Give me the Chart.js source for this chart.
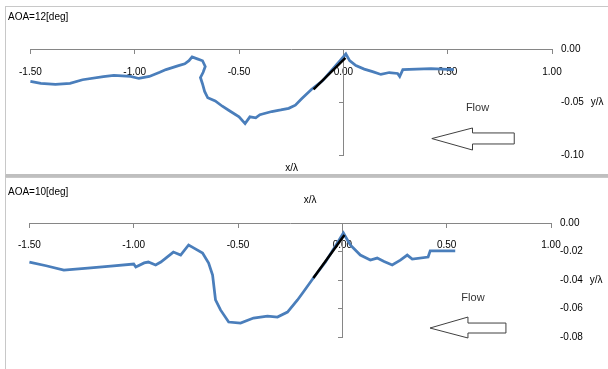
<!DOCTYPE html>
<html>
<head>
<meta charset="utf-8">
<title>AOA profiles</title>
<script src="https://cdn.jsdelivr.net/npm/chart.js@4.4.1/dist/chart.umd.min.js"></script>
<style>
  html, body { margin: 0; padding: 0; background: #fff; }
  body { width: 608px; height: 369px; position: relative; overflow: hidden; }
  .panel {
    position: absolute;
    left: 5px;
    width: 602px;
    border-left: 1px solid #c8c8c8;
    border-top: 1px solid #c8c8c8;
  }
  #panelTop { top: 6px; height: 167px; border-bottom: 3px solid #bfbfbf; }
  #panelBottom { top: 177px; height: 191px; }
</style>
</head>
<body>
<div class="panel" id="panelTop"><canvas id="chartTop"></canvas></div>
<div class="panel" id="panelBottom"><canvas id="chartBottom"></canvas></div>

<script>
// AOA = 12 deg profile
const topX = [-1.50, -1.45, -1.38, -1.31, -1.25, -1.15, -1.10, -1.02, -0.98, -0.93, -0.88, -0.85,
  -0.82, -0.79, -0.76, -0.74, -0.725, -0.70, -0.675, -0.662, -0.672, -0.685, -0.675, -0.665,
  -0.65, -0.614, -0.58, -0.548, -0.50, -0.471, -0.448, -0.42, -0.40, -0.343, -0.30, -0.262,
  -0.23, -0.20, -0.152, -0.10, -0.06, -0.02, 0.012, 0.03, 0.06, 0.10, 0.14, 0.18, 0.22, 0.26,
  0.27, 0.285, 0.42, 0.53];
const topY = [-0.0306, -0.0324, -0.0333, -0.0324, -0.0290, -0.0260, -0.0250, -0.0259, -0.0278,
  -0.0259, -0.0220, -0.0194, -0.0176, -0.0157, -0.0139, -0.0110, -0.0074, -0.0093, -0.0111,
  -0.0165, -0.0220, -0.0269, -0.0330, -0.0400, -0.0460, -0.0490, -0.0540, -0.0580, -0.0640,
  -0.0704, -0.0640, -0.0650, -0.0620, -0.0590, -0.0575, -0.0560, -0.0530, -0.0470, -0.0380,
  -0.0300, -0.0210, -0.0120, -0.0046, -0.0110, -0.0157, -0.0190, -0.0213, -0.0240, -0.0222,
  -0.0231, -0.0259, -0.0194, -0.0185, -0.0194];
const topWingX = [-0.143, 0.01];
const topWingY = [-0.0380, -0.0083];

// AOA = 10 deg profile
const bottomX = [-1.50, -1.42, -1.335, -1.22, -1.11, -1.00, -0.99, -0.95, -0.93, -0.895, -0.87,
  -0.84, -0.81, -0.775, -0.737, -0.713, -0.67, -0.641, -0.622, -0.608, -0.584, -0.545, -0.488,
  -0.426, -0.359, -0.311, -0.263, -0.215, -0.187, -0.139, -0.081, -0.033, 0.005, 0.038, 0.086,
  0.134, 0.167, 0.20, 0.239, 0.278, 0.311, 0.335, 0.411, 0.421, 0.541];
const bottomY = [-0.0274, -0.0300, -0.0330, -0.0316, -0.0302, -0.0288, -0.0309, -0.0280,
  -0.0274, -0.0295, -0.0274, -0.0239, -0.0204, -0.0225, -0.0154, -0.0175, -0.0211, -0.0281,
  -0.0365, -0.0540, -0.0610, -0.0695, -0.0702, -0.0667, -0.0653, -0.0660, -0.0625, -0.0540,
  -0.0484, -0.0386, -0.0274, -0.0161, -0.0070, -0.0154, -0.0225, -0.0260, -0.0246, -0.0270,
  -0.0295, -0.0260, -0.0225, -0.0253, -0.0239, -0.0196, -0.0196];
const bottomWingX = [-0.139, 0.01];
const bottomWingY = [-0.0386, -0.0084];

// Axis ranges
const xRange = [-1.5, 1.0];
const topYRange = [-0.10, 0];
const bottomYRange = [-0.08, 0];

const FONT = { family: '"Liberation Sans", Arial, sans-serif', size: 10 };
const AXIS_GREY = '#868686';
const SERIES_BLUE = '#4A7EBB';

// Titles, axis names, flow text and arrow
const panelNotes = {
  id: 'panelNotes',
  afterDatasetsDraw(chart, args, opts) {
    const { ctx, scales: { x, y } } = chart;
    const px = v => x.getPixelForValue(v);
    const py = v => y.getPixelForValue(v);

    ctx.save();
    ctx.fillStyle = '#000';
    ctx.font = '10px "Liberation Sans", Arial, sans-serif';
    ctx.textBaseline = 'middle';
    ctx.textAlign = 'left';
    ctx.fillText(opts.title, 2, opts.titleY);

    ctx.textAlign = 'center';
    ctx.fillText('x/λ', px(opts.xName[0]), py(opts.xName[1]));
    ctx.fillText('y/λ', px(opts.yName[0]), py(opts.yName[1]));
    ctx.font = '11px "Liberation Sans", Arial, sans-serif';
    ctx.fillStyle = '#333';
    ctx.fillText('Flow', px(opts.flow[0]), py(opts.flow[1]));

    // hollow arrow pointing left
    const a = opts.arrow;
    ctx.beginPath();
    ctx.moveTo(px(a.tip), py(a.mid));
    ctx.lineTo(px(a.neck), py(a.headTop));
    ctx.lineTo(px(a.neck), py(a.bodyTop));
    ctx.lineTo(px(a.tail), py(a.bodyTop));
    ctx.lineTo(px(a.tail), py(a.bodyBottom));
    ctx.lineTo(px(a.neck), py(a.bodyBottom));
    ctx.lineTo(px(a.neck), py(a.headBottom));
    ctx.closePath();
    ctx.fillStyle = '#fff';
    ctx.fill();
    ctx.strokeStyle = '#404040';
    ctx.lineWidth = 1;
    ctx.stroke();
    ctx.restore();
  }
};

function toPoints(xs, ys) {
  return xs.map((v, i) => ({ x: v, y: ys[i] }));
}

function tickText(value) {
  return Number(value).toFixed(2);
}

// One framed panel: profile line, wing segment, axes crossing at the origin
function buildPanel(canvasId, cfg) {
  const ctx = document.getElementById(canvasId);
  return new Chart(ctx, {
    type: 'scatter',
    data: {
      datasets: [
        {
          data: toPoints(cfg.wingX, cfg.wingY),
          showLine: true,
          borderColor: '#000',
          borderWidth: 2.5,
          pointRadius: 0,
          clip: false
        },
        {
          data: toPoints(cfg.xs, cfg.ys),
          showLine: true,
          borderColor: SERIES_BLUE,
          borderWidth: 2.75,
          pointRadius: 0,
          tension: 0,
          clip: false
        }
      ]
    },
    options: {
      animation: false,
      responsive: true,
      maintainAspectRatio: false,
      layout: { padding: { left: cfg.padLeft, top: cfg.padTop, right: 0, bottom: cfg.padBottom } },
      plugins: {
        legend: { display: false },
        tooltip: { enabled: false },
        panelNotes: cfg.notes
      },
      scales: {
        x: {
          type: 'linear',
          position: { y: 0 },
          min: xRange[0],
          max: xRange[1],
          ticks: {
            stepSize: 0.5,
            padding: cfg.xLabelPad,
            maxRotation: 0,
            autoSkip: false,
            color: '#000',
            font: FONT,
            callback: tickText
          },
          grid: { drawOnChartArea: false, color: AXIS_GREY, tickLength: 4 },
          border: { color: AXIS_GREY }
        },
        y: {
          type: 'linear',
          position: { x: 0 },
          min: cfg.yRange[0],
          max: cfg.yRange[1],
          ticks: { stepSize: cfg.yStep, display: false },
          grid: { drawOnChartArea: false, color: AXIS_GREY, tickLength: 4 },
          border: { color: AXIS_GREY }
        },
        yLabels: {
          type: 'linear',
          position: 'right',
          min: cfg.yRange[0],
          max: cfg.yRange[1],
          ticks: {
            stepSize: cfg.yStep,
            padding: 9,
            color: '#000',
            font: FONT,
            callback: tickText
          },
          grid: { display: false, drawTicks: false },
          border: { display: false },
          afterFit: scale => { scale.width = cfg.rightWidth; }
        }
      }
    },
    plugins: [panelNotes]
  });
}

function initCharts() {
  buildPanel('chartTop', {
    xs: topX, ys: topY, wingX: topWingX, wingY: topWingY,
    yRange: topYRange, yStep: 0.05,
    padLeft: 21, padTop: 42, padBottom: 19, rightWidth: 56, xLabelPad: 13,
    notes: {
      title: 'AOA=12[deg]', titleY: 10,
      xName: [-0.248, -0.1123],
      yName: [1.216, -0.050],
      flow: [0.643, -0.0557],
      arrow: { tip: 0.424, neck: 0.619, tail: 0.819, mid: -0.0845,
               headTop: -0.0745, headBottom: -0.0953, bodyTop: -0.0792, bodyBottom: -0.0896 }
    }
  });

  buildPanel('chartBottom', {
    xs: bottomX, ys: bottomY, wingX: bottomWingX, wingY: bottomWingY,
    yRange: bottomYRange, yStep: 0.02,
    padLeft: 23, padTop: 45, padBottom: 32, rightWidth: 57, xLabelPad: 12,
    notes: {
      title: 'AOA=10[deg]', titleY: 14,
      xName: [-0.154, 0.0161],
      yName: [1.216, -0.040],
      flow: [0.626, -0.0526],
      arrow: { tip: 0.42, neck: 0.602, tail: 0.784, mid: -0.0737,
               headTop: -0.066, headBottom: -0.0807, bodyTop: -0.0702, bodyBottom: -0.0772 }
    }
  });
}

document.addEventListener('DOMContentLoaded', initCharts);
</script>
</body>
</html>
